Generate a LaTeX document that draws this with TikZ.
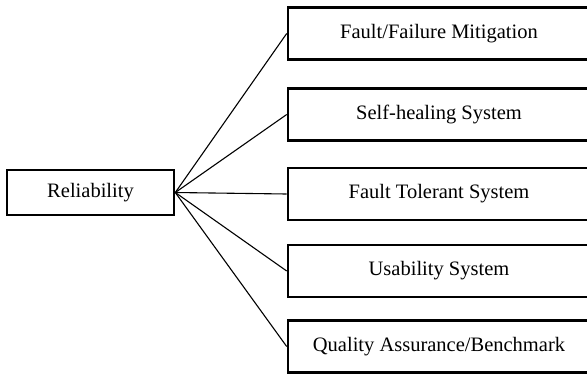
\documentclass[tikz,border=0pt]{standalone}
\usepackage{fontspec}
\setmainfont{Liberation Serif}
\begin{document}
\begin{tikzpicture}[x=1pt,y=-1pt,
  box/.style={draw=black,line width=2.6pt,fill=white,minimum height=52pt,inner sep=0pt,font=\fontsize{20.5}{24}\selectfont},
  leftbox/.style={box,minimum width=167pt,minimum height=45pt},
  rightbox/.style={box,minimum width=302pt},
  conn/.style={draw=black,line width=1.1pt}]
\useasboundingbox (0,0) rectangle (587,373);
\node[leftbox] (rel) at (90.5,192.5) {Reliability};
\node[rightbox] (b1) at (439,33.5) {};
\node[rightbox] (b2) at (439,114.5) {};
\node[rightbox] (b3) at (439,194) {};
\node[rightbox] (b4) at (439,271) {};
\node[rightbox] (b5) at (439,346.5) {};
\node[font=\fontsize{20.5}{24}\selectfont] (t1) at (439,33.5) {Fault/Failure Mitigation};
\node[font=\fontsize{20.5}{24}\selectfont] (t2) at (439,114.5) {Self-healing System};
\node[font=\fontsize{20.5}{24}\selectfont] (t3) at (439,194) {Fault Tolerant System};
\node[font=\fontsize{20.5}{24}\selectfont] (t4) at (439,271) {Usability System};
\node[font=\fontsize{20.5}{24}\selectfont] (t5) at (439,346.5) {Quality Assurance/Benchmark};
\foreach \b in {b1,b2,b3,b4,b5}{
  \draw[conn] (rel.east) -- (\b.west);
}
\end{tikzpicture}
\end{document}
